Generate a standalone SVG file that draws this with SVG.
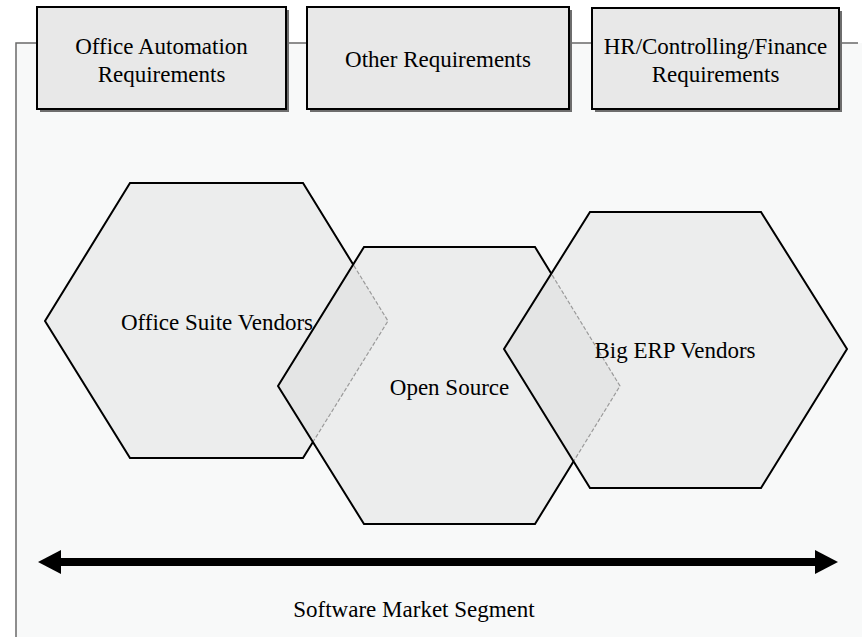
<svg xmlns="http://www.w3.org/2000/svg" width="862" height="637" viewBox="0 0 862 637">
<style>
text{font-family:"Liberation Serif","Times New Roman",serif;font-size:23px;fill:#000;text-anchor:middle}
.box{fill:#e8e8e8;stroke:#000;stroke-width:2}
.shadow{fill:#6e6e6e}
.hexfill{fill:#d4d4d4;fill-opacity:0.32;stroke:none}
.solid{fill:none;stroke:#000;stroke-width:2;stroke-linejoin:miter}
.dash{fill:none;stroke:#808080;stroke-width:1.2;stroke-dasharray:4 2}
.frame{fill:none;stroke:#6a6a6a;stroke-width:1.5}
</style>
<defs>
<polygon id="hexOffice" points="130,183 303,183 388,321 303,458 130,458 45,321"/>
<polygon id="hexOS" points="364,247 535,247 620,386 535,524 364,524 278,386"/>
<polygon id="hexERP" points="590,212 761,212 847,349 761,488 590,488 504,349"/>
<clipPath id="notOS"><path clip-rule="evenodd" d="M0 0H862V637H0Z M364,247 L535,247 L620,386 L535,524 L364,524 L278,386 Z"/></clipPath>
<clipPath id="inOS"><polygon points="364,247 535,247 620,386 535,524 364,524 278,386"/></clipPath>
<clipPath id="notERP"><path clip-rule="evenodd" d="M0 0H862V637H0Z M590,212 L761,212 L847,349 L761,488 L590,488 L504,349 Z"/></clipPath>
<clipPath id="inERP"><polygon points="590,212 761,212 847,349 761,488 590,488 504,349"/></clipPath>
<marker id="ah" viewBox="0 0 24 24" refX="0" refY="12" markerWidth="24" markerHeight="24" markerUnits="userSpaceOnUse" orient="auto-start-reverse"><path d="M0,0 L23,12 L0,24 Z" fill="#000"/></marker>
</defs>
<rect x="0" y="0" width="862" height="637" fill="#ffffff"/>
<rect x="16" y="43" width="846" height="594" fill="#f8f9f9"/>
<g id="connectors">
<path class="frame" d="M16,637 V43 H37 M286,43 H307 M569,43 H592 M839,43 H858"/>
<line x1="61" y1="562" x2="815" y2="562" stroke="#000" stroke-width="8" marker-start="url(#ah)" marker-end="url(#ah)"/>
</g>
<g id="office-automation">
<rect class="shadow" x="40" y="10" width="249" height="102"/>
<rect class="box" x="37" y="7" width="249" height="102"/>
<text x="161.5" y="54">Office Automation</text>
<text x="161.5" y="82">Requirements</text>
</g>
<g id="other-requirements">
<rect class="shadow" x="310" y="10" width="262" height="102"/>
<rect class="box" x="307" y="7" width="262" height="102"/>
<text x="438" y="67">Other Requirements</text>
</g>
<g id="hr-controlling-finance">
<rect class="shadow" x="595" y="11" width="247" height="101"/>
<rect class="box" x="592" y="8" width="247" height="101"/>
<text x="715.5" y="54">HR/Controlling/Finance</text>
<text x="715.5" y="82">Requirements</text>
</g>
<g id="office-suite-vendors">
<use href="#hexOffice" class="hexfill"/>
<use href="#hexOffice" class="solid" clip-path="url(#notOS)"/>
<use href="#hexOffice" class="dash" clip-path="url(#inOS)"/>
<text x="217" y="330">Office Suite Vendors</text>
</g>
<g id="open-source">
<use href="#hexOS" class="hexfill"/>
<use href="#hexOS" class="solid" clip-path="url(#notERP)"/>
<use href="#hexOS" class="dash" clip-path="url(#inERP)"/>
<text x="449.5" y="395">Open Source</text>
</g>
<g id="big-erp-vendors">
<use href="#hexERP" class="hexfill"/>
<use href="#hexERP" class="solid"/>
<text x="675" y="358">Big ERP Vendors</text>
</g>
<g id="market-segment-label">
<text x="414" y="617">Software Market Segment</text>
</g>
</svg>
